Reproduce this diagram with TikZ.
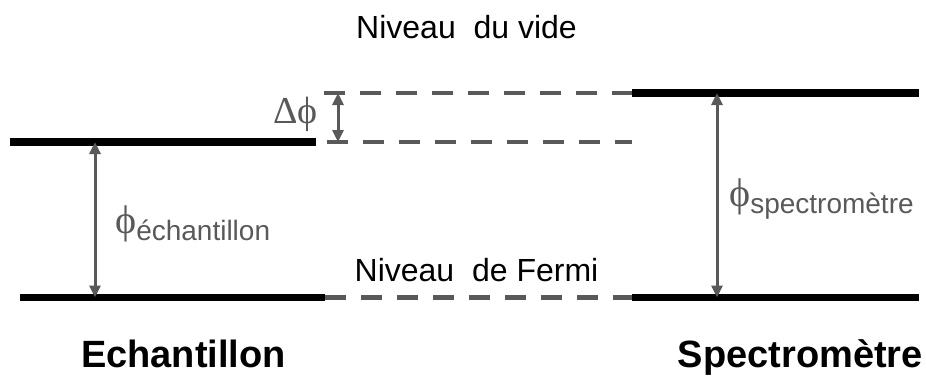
\documentclass[tikz,border=0pt]{standalone}
\usepackage{fontspec}
\setmainfont{Liberation Sans}
\newfontfamily\serifgr{Liberation Serif}
\usetikzlibrary{arrows.meta}
\definecolor{dgray}{HTML}{595959}
\begin{document}
\begin{tikzpicture}[x=1pt,y=-1pt,
  level/.style={line width=7.5pt, black},
  dashlevel/.style={line width=4.5pt, dgray, dash pattern=on 21pt off 15pt},
  gaparrow/.style={line width=3pt, dgray, {Triangle[length=12pt,width=11pt]}-{Triangle[length=12pt,width=11pt]}},
  txt/.style={inner sep=0pt, anchor=base},
  lbl/.style={inner sep=0pt, anchor=base west, text=dgray}
]
\useasboundingbox (0,0) rectangle (926,376);
% coordinates
\coordinate (lvA) at (10,142);   \coordinate (lvB) at (316,142);
\coordinate (lfA) at (20,297.5); \coordinate (lfB) at (325,297.5);
\coordinate (rvA) at (632,93);   \coordinate (rvB) at (919,93);
\coordinate (rfA) at (632,297.5);\coordinate (rfB) at (919,297.5);
\coordinate (dtA) at (324,93);   \coordinate (dtB) at (632,93);
\coordinate (dmA) at (327,142);  \coordinate (dmB) at (632,142);
\coordinate (dfA) at (325,297.5);\coordinate (dfB) at (632,297.5);
\coordinate (dpT) at (338,93);   \coordinate (dpB) at (338,142);
\coordinate (laT) at (95,142);   \coordinate (laB) at (95,297.5);
\coordinate (raT) at (717,93);   \coordinate (raB) at (717,297.5);
% levels
\draw[level] (lvA) -- (lvB);
\draw[level] (lfA) -- (lfB);
\draw[level] (rvA) -- (rvB);
\draw[level] (rfA) -- (rfB);
\draw[dashlevel] (dtA) -- (dtB);
\draw[dashlevel] (dmA) -- (dmB);
\draw[dashlevel] (dfA) -- (dfB);
% arrows
\draw[gaparrow] (dpT) -- (dpB);
\draw[gaparrow] (laT) -- (laB);
\draw[gaparrow] (raT) -- (raB);
% texts
\node[txt, font=\fontsize{32}{36}\selectfont] (vide) at (466.5,38) {Niveau~ du vide};
\node[txt, font=\fontsize{32}{36}\selectfont] (fermi) at (476.5,281) {Niveau~ de Fermi};
\node[txt, font=\bfseries\fontsize{38}{42}\selectfont] (ech) at (183.5,367) {Echantillon};
\node[txt, anchor=base east, font=\bfseries\fontsize{38}{42}\selectfont] (spec) at (923,367) {Spectromètre};
\node[lbl, font=\serifgr\fontsize{38}{40}\selectfont] (dphi) at (273,123) {Δϕ};
\node[lbl] (phie) at (115,233) {{\serifgr\fontsize{40}{40}\selectfont ϕ}{\fontsize{28}{28}\selectfont\raisebox{-7pt}{échantillon}}};
\node[lbl] (phis) at (729,206) {{\serifgr\fontsize{40}{40}\selectfont ϕ}{\fontsize{28}{28}\selectfont\raisebox{-7pt}{spectromètre}}};
\end{tikzpicture}
\end{document}
